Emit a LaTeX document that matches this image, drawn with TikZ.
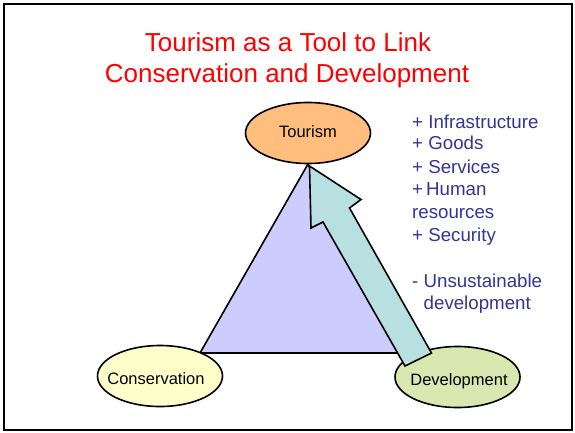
\documentclass[tikz,border=0pt]{standalone}
\usepackage{fontspec}
\setmainfont{Liberation Sans}
\usetikzlibrary{shapes.geometric}
\definecolor{titlered}{RGB}{255,0,0}
\definecolor{listblue}{RGB}{51,51,153}
\definecolor{tourfill}{RGB}{255,190,125}
\definecolor{consfill}{RGB}{255,255,204}
\definecolor{devfill}{RGB}{216,232,176}
\definecolor{trifill}{RGB}{204,204,255}
\definecolor{arrfill}{RGB}{184,224,224}
\tikzset{
  hub/.style={ellipse, draw=black, line width=1.6pt, minimum width=125pt, minimum height=61pt, inner sep=0pt},
  hublabel/.style={font=\fontsize{16.5}{19}\selectfont, inner sep=0pt},
  titletext/.style={text=titlered, font=\fontsize{26}{30}\selectfont, anchor=base, inner sep=0pt},
  listtext/.style={text=listblue, font=\fontsize{18.7}{22}\selectfont, anchor=base west, inner sep=0pt},
  outline/.style={draw=black, line width=1.6pt, line join=miter}
}
\begin{document}
\begin{tikzpicture}[x=1pt,y=-1pt]
\useasboundingbox (0,0) rectangle (575,432);
\draw[line width=2pt] (4,4) rectangle (572,430);
% title
\node[titletext] (t1) at (288,51.7) {Tourism as a Tool to Link};
\node[titletext] (t2) at (287,82.7) {Conservation and Development};
% triangle
\coordinate (apex) at (308,164);
\coordinate (bl) at (200,353);
\coordinate (br) at (398,353);
\fill[trifill] (apex) -- (bl) -- (br) -- cycle;
\draw[outline] (apex) -- (bl) -- (br) -- cycle;
% ellipses
\node[hub, fill=tourfill] (tour) at (308,133) {};
\node[hub, fill=consfill] (cons) at (160,376) {};
\node[hub, fill=devfill] (dev) at (457.5,377) {};
\node[hublabel] (tourlab) at (308,132) {Tourism};
\node[hublabel] (conslab) at (156,379) {Conservation};
\node[hublabel] (devlab) at (459,381.5) {Development};
% block arrow
\coordinate (tip) at (309.5,166);
\coordinate (rb) at (361,199.5);
\coordinate (ri) at (349.5,208);
\coordinate (bR) at (431.5,353);
\coordinate (bL) at (405,366);
\coordinate (li) at (323,222);
\coordinate (lb) at (311,228);
\draw[outline, fill=arrfill] (tip) -- (rb) -- (ri) -- (bR) -- (bL) -- (li) -- (lb) -- cycle;
% list
\node[listtext] (l1) at (412,128) {+ Infrastructure};
\node[listtext] (l2) at (412,149.7) {+ Goods};
\node[listtext] (l3) at (412,173.7) {+ Services};
\node[listtext] (l4) at (412,195.3) {+\,Human};
\node[listtext] (l5) at (412,218) {resources};
\node[listtext] (l6) at (412,241) {+ Security};
\node[listtext] (l7) at (412,287.3) {- Unsustainable};
\node[listtext] (l8) at (423.5,309.3) {development};
\end{tikzpicture}
\end{document}
